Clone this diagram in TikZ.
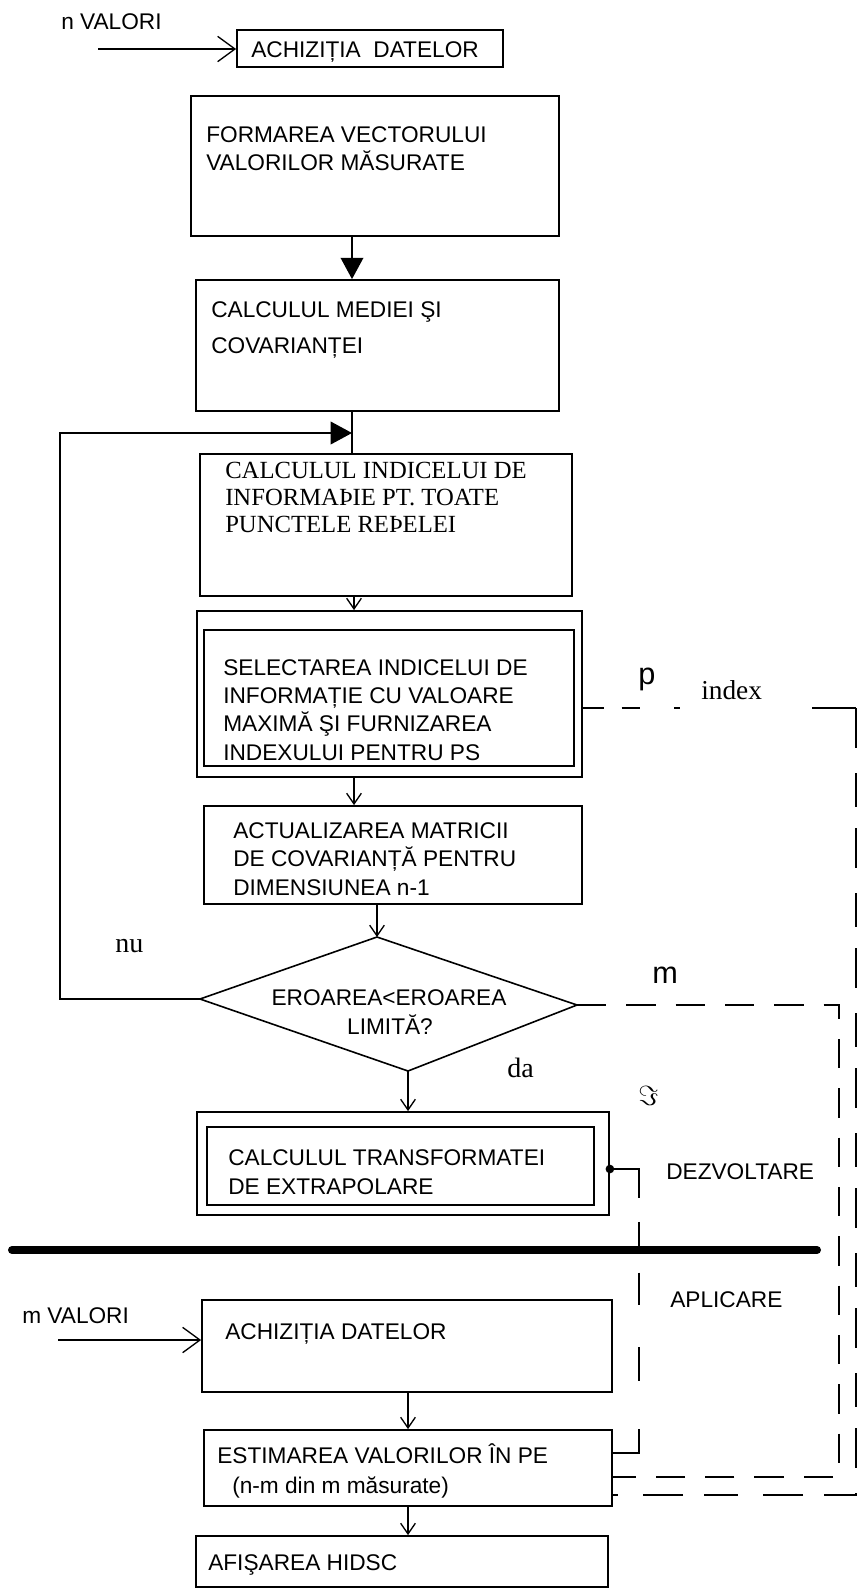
\documentclass[tikz,border=0pt]{standalone}
\usepackage{fontspec}
\setmainfont{Liberation Sans}
\newfontfamily\tnr{Liberation Serif}
\usetikzlibrary{arrows.meta,fit}
\begin{document}
\begin{tikzpicture}[x=0.75pt,y=-0.75pt,
  box/.style={draw, line width=1.35pt, inner sep=0pt},
  lbl/.style={anchor=base west, inner sep=0pt, font=\fontsize{17}{20}\selectfont},
  tlbl/.style={anchor=base west, inner sep=0pt, font=\tnr\fontsize{18.5}{21}\selectfont},
  conn/.style={line width=1.2pt},
  vee/.style={conn, -{Straight Barb[length=8pt,width=11pt,line width=1pt]}},
  bigvee/.style={conn, -{Straight Barb[length=13pt,width=19pt,line width=1pt]}},
  tri/.style={conn, -{Triangle[length=16pt,width=17pt]}},
  dashA/.style={conn, dash pattern=on 22pt off 15pt},
]
\useasboundingbox (0,0) rectangle (862,1592);

% ---- top
\node[lbl] (nval) at (61,29) {n VALORI};
\coordinate (nin) at (98,49);
\node[box, fit={(237,30) (503,67)}] (ach1) {};
\node[lbl] (ach1t) at (251,57) {ACHIZIȚIA\ \ DATELOR};

\node[box, fit={(191,96) (559,236)}] (form) {};
\node[lbl] (form1) at (206,142) {FORMAREA VECTORULUI};
\node[lbl] (form2) at (206,170) {VALORILOR MĂSURATE};

\node[box, fit={(196,280) (559,411)}] (medie) {};
\node[lbl] (medie1) at (211,317) {CALCULUL MEDIEI ŞI};
\node[lbl] (medie2) at (211,353) {COVARIANȚEI};

\node[box, fit={(200,454) (572,596)}] (indice) {};
\node[tlbl] (ind1) at (225,478) {CALCULUL INDICELUI DE};
\node[tlbl] (ind2) at (225,505) {INFORMAÞIE PT. TOATE};
\node[tlbl] (ind3) at (225,532) {PUNCTELE REÞELEI};

\node[box, fit={(197,611) (582,777)}] (selo) {};
\node[box, fit={(204,630) (574,766)}] (seli) {};
\node[lbl] (sel1) at (223,675) {SELECTAREA INDICELUI DE};
\node[lbl] (sel2) at (223,703) {INFORMAȚIE CU VALOARE};
\node[lbl] (sel3) at (223,731) {MAXIMĂ ŞI FURNIZAREA};
\node[lbl] (sel4) at (223,760) {INDEXULUI PENTRU PS};

\node[box, fit={(204,806) (582,904)}] (act) {};
\node[lbl] (act1) at (233,838) {ACTUALIZAREA MATRICII};
\node[lbl] (act2) at (233,866) {DE COVARIANȚĂ PENTRU};
\node[lbl] (act3) at (233,895) {DIMENSIUNEA n-1};

% diamond
\coordinate (dT) at (377,937);
\coordinate (dR) at (577,1005);
\coordinate (dB) at (408,1071);
\coordinate (dL) at (200,999);
\draw[conn] (dT) -- (dR) -- (dB) -- (dL) -- cycle;
\node[lbl, anchor=base] (dtx1) at (389,1005) {EROAREA<EROAREA};
\node[lbl, anchor=base] (dtx2) at (390,1034) {LIMITĂ?};

\node[anchor=base west, inner sep=0pt, font=\tnr\fontsize{21}{24}\selectfont] (nu) at (115,952) {nu};
\node[anchor=base west, inner sep=0pt, font=\tnr\fontsize{21}{24}\selectfont] (da) at (507,1077) {da};

\node[box, fit={(197,1112) (609,1215)}] (tro) {};
\node[box, fit={(207,1127) (594,1205)}] (trin) {};
\node[lbl] (tr1) at (228,1165) {CALCULUL TRANSFORMATEI};
\node[lbl] (tr2) at (228,1194) {DE EXTRAPOLARE};

% labels on the right
\node[anchor=base west, inner sep=0pt, font=\fontsize{23}{26}\selectfont] (plab) at (638,684) {p};
\node[anchor=base west, inner sep=0pt, font=\tnr\fontsize{20.5}{24}\selectfont] (idx) at (701,699) {index};
\node[anchor=base west, inner sep=0pt, font=\fontsize{23}{26}\selectfont] (mlab) at (652,983) {m};
\node[anchor=base west, inner sep=0pt, font=\fontsize{22}{26}\selectfont] (imlab) at (638,1105) {$\Im$};
\node[lbl] (dezv) at (666,1179) {DEZVOLTARE};
\node[lbl] (apl) at (670,1307) {APLICARE};

% separator
\coordinate (s1) at (12,1250);
\coordinate (s2) at (817,1250);
\draw[line width=6pt, line cap=round] (s1) -- (s2);

% ---- bottom
\node[lbl] (mval) at (22,1323) {m VALORI};
\coordinate (min) at (58,1340);
\node[box, fit={(202,1300) (612,1392)}] (ach2) {};
\node[lbl] (ach2t) at (225,1339) {ACHIZIȚIA DATELOR};

\node[box, fit={(204,1430) (612,1506)}] (estim) {};
\node[lbl] (est1) at (217,1463) {ESTIMAREA VALORILOR ÎN PE};
\node[lbl] (est2) at (232,1493) {(n-m din m măsurate)};

\node[box, fit={(196,1536) (608,1587)}] (afis) {};
\node[lbl] (afis1) at (208,1570) {AFIŞAREA HIDSC};

% ---- connectors
\coordinate (xa) at (352,0);
\coordinate (xb) at (354,0);
\coordinate (xc) at (408,0);
\draw[bigvee] (nin) -- (nin -| ach1.west);
\draw[tri] (form.south -| xa) -- (medie.north -| xa);
\draw[conn] (medie.south -| xa) -- (indice.north -| xa);
\draw[vee] (indice.south -| xb) -- (selo.north -| xb);
\draw[vee] (selo.south -| xb) -- (act.north -| xb);
\draw[vee] (act.south -| dT) -- (dT);
\draw[vee] (dB) -- (tro.north -| dB);
\coordinate (lx) at (60,433);
\draw[tri] (dL) -- (dL -| lx) -- (lx) -- (lx -| xa);

\draw[bigvee] (min) -- (min -| ach2.west);
\draw[vee] (ach2.south -| xc) -- (estim.north -| xc);
\draw[vee] (estim.south -| xc) -- (afis.north -| xc);

% p / index dashed line
\coordinate (pc) at (856,708);
\coordinate (pb) at (0,1495);
\draw[conn, dash pattern=on 16pt off 13pt on 13.5pt off 26pt on 4.5pt off 99pt on 40pt] (selo.east |- pc) -- (pc);
\draw[conn, dash pattern=on 30pt off 19pt on 25pt off 16pt] (pc) -- (pc |- pb) -- (estim.east |- pb);

% m dashed line
\coordinate (mc) at (839,1005);
\coordinate (mb) at (0,1477);
\draw[dashA] (dR) -- (mc) -- (mc |- mb) -- (estim.east |- mb);

% Im line
\node[circle, fill, inner sep=0pt, minimum size=6.5pt] (dot) at (tro.east |- 0,1169) {};
\coordinate (jc) at (639,1169);
\coordinate (jb) at (0,1453);
\draw[conn, dash pattern=on 43.5pt off 18pt on 23pt off 15pt on 24pt off 32pt on 25.5pt off 36pt on 40pt] (dot.center) -- (jc) -- (jc |- jb) -- (estim.east |- jb);
\end{tikzpicture}
\end{document}
